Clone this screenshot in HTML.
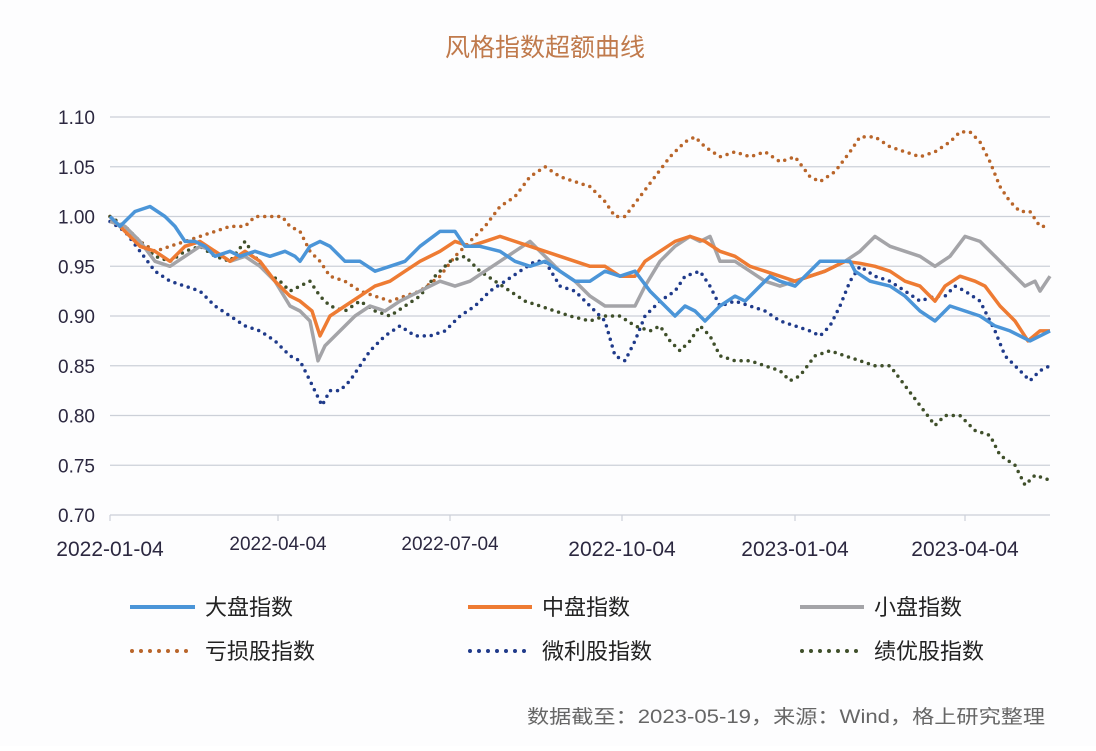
<!DOCTYPE html>
<html><head><meta charset="utf-8"><style>
body{margin:0;background:#fff;}
svg text{font-family:"Liberation Sans","Noto Sans CJK SC",sans-serif;}
</style></head><body>
<svg id="s" width="1096" height="746" xmlns="http://www.w3.org/2000/svg">
<rect width="1096" height="746" fill="#fdfdfe"/>
<text x="545" y="56" text-anchor="middle" font-size="25" fill="#c07a4c">风格指数超额曲线</text>
<g id="grid" stroke="#ccd0d8" stroke-width="1.2"></g>
<g id="yl" font-size="19" fill="#2c2840" text-anchor="end"></g>
<g font-size="19" fill="#2c2840" text-anchor="middle">
<text x="110" y="556" font-size="21">2022-01-04</text>
<text x="278" y="550">2022-04-04</text>
<text x="450" y="550">2022-07-04</text>
<text x="622" y="556" font-size="21">2022-10-04</text>
<text x="795" y="556" font-size="21">2023-01-04</text>
<text x="965" y="556" font-size="21">2023-04-04</text>
</g>
<g id="series" fill="none" stroke-linejoin="round"></g>
<g font-size="22" fill="#222">
<line x1="130" y1="607" x2="195" y2="607" stroke="#4b95d8" stroke-width="4"/><text x="205" y="615">大盘指数</text>
<line x1="468" y1="607" x2="532" y2="607" stroke="#ee7b33" stroke-width="4"/><text x="542" y="615">中盘指数</text>
<line x1="800" y1="607" x2="864" y2="607" stroke="#a4a4a8" stroke-width="4"/><text x="874" y="615">小盘指数</text>
<line x1="132" y1="651" x2="195" y2="651" stroke="#b9652a" stroke-width="4" stroke-dasharray="0 9" stroke-linecap="round"/><text x="205" y="659">亏损股指数</text>
<line x1="470" y1="651" x2="532" y2="651" stroke="#1f3a8a" stroke-width="4" stroke-dasharray="0 9" stroke-linecap="round"/><text x="542" y="659">微利股指数</text>
<line x1="802" y1="651" x2="864" y2="651" stroke="#3f4f2a" stroke-width="4" stroke-dasharray="0 9" stroke-linecap="round"/><text x="874" y="659">绩优股指数</text>
</g>
<text x="527" y="723" font-size="19" fill="#666" textLength="518" lengthAdjust="spacingAndGlyphs">数据截至：2023-05-19，来源：Wind，格上研究整理</text>
</svg>
<script>
var ns="http://www.w3.org/2000/svg";
function Y(v){return 515-(v-0.70)*995;}
var g=document.getElementById("grid"),yl=document.getElementById("yl");
for(var i=0;i<=8;i++){var v=0.70+i*0.05,y=Y(v);
var l=document.createElementNS(ns,"line");l.setAttribute("x1",110);l.setAttribute("x2",1050);l.setAttribute("y1",y);l.setAttribute("y2",y);g.appendChild(l);
var t=document.createElementNS(ns,"text");t.setAttribute("x",95);t.setAttribute("y",y+7);t.textContent=v.toFixed(2);yl.appendChild(t);}
[110,278,450,622,795,965].forEach(function(x){var l=document.createElementNS(ns,"line");l.setAttribute("x1",x);l.setAttribute("x2",x);l.setAttribute("y1",515);l.setAttribute("y2",521);g.appendChild(l);});
var S=[
["#b9652a",1,"110,1.0,125,0.99,140,0.975,155,0.965,170,0.97,185,0.975,200,0.98,215,0.985,230,0.99,245,0.99,255,1.0,270,1.0,282,1.0,290,0.99,300,0.985,310,0.965,320,0.955,330,0.94,345,0.935,360,0.925,375,0.92,390,0.915,405,0.92,420,0.925,440,0.94,455,0.96,470,0.975,485,0.99,500,1.01,515,1.02,530,1.04,545,1.05,560,1.04,575,1.035,590,1.03,605,1.015,615,1.0,625,1.0,640,1.02,655,1.04,670,1.06,685,1.075,695,1.08,705,1.07,720,1.06,735,1.065,750,1.06,765,1.065,780,1.055,795,1.06,810,1.04,820,1.035,835,1.045,850,1.065,860,1.08,875,1.08,890,1.07,905,1.065,920,1.06,935,1.065,950,1.075,960,1.085,970,1.085,980,1.075,990,1.055,1000,1.03,1010,1.015,1020,1.005,1030,1.005,1040,0.99,1050,0.99"],
["#1f3a8a",1,"110,0.995,125,0.985,140,0.965,155,0.945,170,0.935,185,0.93,200,0.925,215,0.91,230,0.9,245,0.89,260,0.885,275,0.875,290,0.86,300,0.855,310,0.835,322,0.81,330,0.825,340,0.825,350,0.835,360,0.85,370,0.865,385,0.88,400,0.89,415,0.88,430,0.88,445,0.885,460,0.9,475,0.91,490,0.925,505,0.935,520,0.945,535,0.955,545,0.955,560,0.93,575,0.925,590,0.91,605,0.895,615,0.86,625,0.855,635,0.875,645,0.9,660,0.915,675,0.925,685,0.94,700,0.945,710,0.93,720,0.91,735,0.915,750,0.91,765,0.905,780,0.895,795,0.89,810,0.885,820,0.88,830,0.89,840,0.91,850,0.935,860,0.95,875,0.94,890,0.935,905,0.925,920,0.915,935,0.92,945,0.92,955,0.93,965,0.925,980,0.915,995,0.885,1005,0.86,1020,0.845,1030,0.835,1040,0.845,1050,0.85"],
["#3f4f2a",1,"110,1.0,125,0.99,140,0.975,155,0.96,170,0.955,185,0.965,200,0.97,215,0.96,230,0.955,245,0.975,255,0.96,265,0.945,280,0.935,290,0.925,300,0.93,310,0.935,320,0.92,330,0.91,345,0.905,360,0.915,375,0.905,390,0.9,405,0.91,420,0.92,435,0.94,450,0.955,465,0.96,480,0.945,495,0.935,510,0.925,525,0.915,540,0.91,555,0.905,570,0.9,590,0.895,605,0.9,620,0.9,635,0.89,650,0.885,660,0.89,670,0.875,680,0.865,690,0.875,700,0.89,710,0.88,720,0.86,735,0.855,750,0.855,765,0.85,780,0.845,790,0.835,800,0.84,815,0.86,830,0.865,845,0.86,860,0.855,875,0.85,890,0.85,905,0.83,920,0.81,935,0.79,945,0.8,960,0.8,975,0.785,990,0.78,1000,0.76,1015,0.75,1025,0.73,1035,0.74,1050,0.735"],
["#a4a4a8",0,"110,0.995,125,0.99,140,0.975,155,0.955,170,0.95,185,0.96,200,0.97,215,0.965,230,0.955,245,0.96,260,0.95,275,0.935,290,0.91,300,0.905,310,0.895,318,0.855,325,0.87,340,0.885,355,0.9,370,0.91,385,0.905,400,0.915,420,0.925,440,0.935,455,0.93,470,0.935,485,0.945,500,0.955,515,0.965,530,0.975,545,0.96,560,0.945,575,0.935,590,0.92,605,0.91,620,0.91,635,0.91,645,0.93,660,0.955,675,0.97,690,0.98,700,0.975,710,0.98,720,0.955,735,0.955,750,0.945,765,0.935,780,0.93,795,0.935,810,0.94,825,0.945,845,0.955,860,0.965,875,0.98,890,0.97,905,0.965,920,0.96,935,0.95,950,0.96,965,0.98,980,0.975,995,0.96,1010,0.945,1025,0.93,1035,0.935,1040,0.925,1050,0.94"],
["#ee7b33",0,"110,1.0,125,0.985,140,0.97,155,0.965,170,0.955,185,0.97,200,0.975,215,0.965,230,0.955,245,0.965,260,0.955,275,0.935,290,0.92,300,0.915,312,0.905,320,0.88,330,0.9,345,0.91,360,0.92,375,0.93,390,0.935,405,0.945,420,0.955,440,0.965,455,0.975,470,0.97,485,0.975,500,0.98,515,0.975,530,0.97,545,0.965,560,0.96,575,0.955,590,0.95,605,0.95,620,0.94,635,0.94,645,0.955,660,0.965,675,0.975,690,0.98,705,0.975,720,0.965,735,0.96,750,0.95,765,0.945,780,0.94,795,0.935,810,0.94,825,0.945,845,0.955,860,0.953,875,0.95,890,0.945,905,0.935,920,0.93,935,0.915,945,0.93,960,0.94,975,0.935,985,0.93,1000,0.91,1015,0.895,1028,0.875,1040,0.885,1050,0.885"],
["#4b95d8",0,"110,1.0,120,0.99,135,1.005,150,1.01,165,1.0,175,0.99,185,0.975,195,0.975,205,0.97,215,0.96,230,0.965,240,0.96,255,0.965,270,0.96,285,0.965,295,0.96,300,0.955,310,0.97,320,0.975,330,0.97,345,0.955,360,0.955,375,0.945,390,0.95,405,0.955,420,0.97,440,0.985,455,0.985,465,0.97,480,0.97,500,0.965,515,0.955,530,0.95,545,0.955,560,0.945,575,0.935,590,0.935,605,0.945,620,0.94,635,0.945,650,0.925,665,0.91,675,0.9,685,0.91,695,0.905,705,0.895,720,0.91,735,0.92,745,0.915,760,0.93,770,0.94,780,0.935,795,0.93,810,0.945,820,0.955,835,0.955,850,0.955,855,0.945,870,0.935,890,0.93,905,0.92,920,0.905,935,0.895,950,0.91,965,0.905,980,0.9,995,0.89,1010,0.885,1030,0.875,1040,0.88,1050,0.885"]
];
var sg=document.getElementById("series");
S.forEach(function(s){var a=s[2].split(",").map(Number),p="";
for(var i=0;i<a.length;i+=2){p+=(i?"L":"M")+a[i]+","+Y(a[i+1]).toFixed(1);}
var e=document.createElementNS(ns,"path");e.setAttribute("d",p);e.setAttribute("stroke",s[0]);
e.setAttribute("stroke-width","3.5");
if(s[1]){e.setAttribute("stroke-dasharray","0 7");e.setAttribute("stroke-linecap","round");}
sg.appendChild(e);});
</script>
</body></html>
